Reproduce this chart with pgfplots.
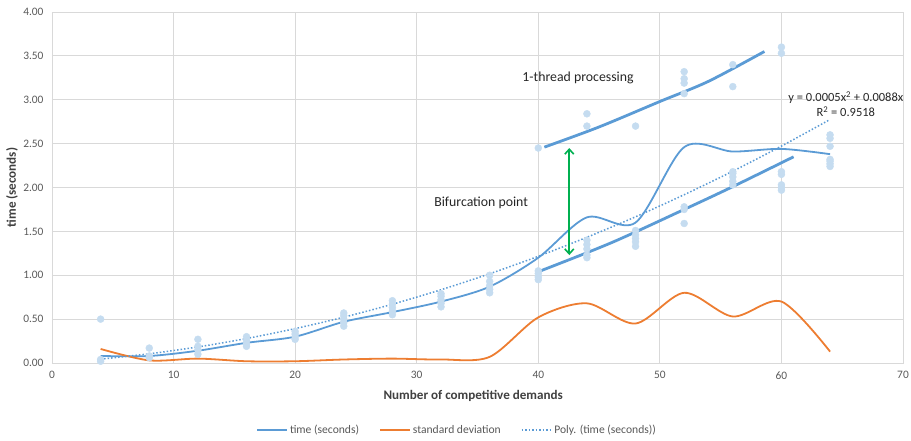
\documentclass[border=0pt]{standalone}
\usepackage{fontspec}
\setmainfont{Carlito}
\usepackage{pgfplots}
\pgfplotsset{compat=1.18}
\usetikzlibrary{arrows.meta}
\definecolor{tblue}{HTML}{5B9BD5}
\definecolor{torange}{HTML}{ED7D31}
\definecolor{tpt}{HTML}{C5DCF0}
\definecolor{tgreen}{HTML}{00B050}
\definecolor{tgrid}{HTML}{D9D9D9}
\definecolor{ttext}{HTML}{595959}
\definecolor{tlab}{HTML}{404040}
\newcommand{\tickfont}{\fontsize{11.4}{13}\selectfont}
\begin{document}
\begin{tikzpicture}
\path[use as bounding box] (-52pt,-77pt) rectangle (859pt,363pt);
\begin{axis}[
  scale only axis, width=851pt, height=351pt,
  xmin=0, xmax=70, ymin=0, ymax=4,
  xtick={0,10,...,70}, ytick={0,0.5,...,4},
  grid=major, grid style={tgrid, line width=0.8pt},
  axis line style={tgrid, line width=0.8pt},
  major tick length=0pt,
  /pgf/number format/assume math mode=true,
  ticklabel style={text=ttext},
  yticklabel={\tickfont\pgfmathprintnumber[fixed,fixed zerofill,precision=2,assume math mode=true]{\tick}},
  xticklabel={\tickfont\pgfmathprintnumber[assume math mode=true]{\tick}},
  y tick label style={xshift=-5pt},
  x tick label style={yshift=-5pt},
  xlabel={Number of competitive demands},
  ylabel={time (seconds)},
  label style={font=\bfseries\fontsize{13.1}{15}\selectfont, text=tlab},
  xlabel style={at={(axis description cs:0.495,-0.094)}, anchor=center},
  ylabel style={at={(axis description cs:-0.047,0.5)}, anchor=center},
  legend columns=3,
  legend style={draw=none, at={(0.476,-0.191)}, anchor=center,
    font=\fontsize{11.6}{14}\selectfont, text=ttext,
    /tikz/every even column/.append style={column sep=18pt}},
  legend image code/.code={\draw[#1] (0pt,0pt) -- (30pt,0pt);},
  clip=false,
]
% scatter of all runs
\addplot[only marks, color=tpt, mark=*, mark size=3.5pt, mark options={draw=tpt, fill=tpt}, forget plot] coordinates {
(4,0.02) (4,0.04) (4,0.50)
(8,0.06) (8,0.08) (8,0.17)
(12,0.10) (12,0.15) (12,0.19) (12,0.27)
(16,0.19) (16,0.22) (16,0.26) (16,0.30)
(20,0.27) (20,0.30) (20,0.33) (20,0.36)
(24,0.42) (24,0.46) (24,0.50) (24,0.54) (24,0.57)
(28,0.55) (28,0.59) (28,0.63) (28,0.67) (28,0.71)
(32,0.64) (32,0.68) (32,0.72) (32,0.76) (32,0.79)
(36,0.80) (36,0.84) (36,0.88) (36,0.93) (36,1.00)
(40,0.95) (40,0.98) (40,1.02) (40,1.05) (40,2.45)
(44,1.20) (44,1.23) (44,1.30) (44,1.35) (44,1.40) (44,2.70) (44,2.84)
(48,1.33) (48,1.38) (48,1.42) (48,1.46) (48,1.51) (48,2.70)
(52,1.59) (52,1.75) (52,1.78) (52,3.07) (52,3.19) (52,3.24) (52,3.32)
(56,2.03) (56,2.07) (56,2.12) (56,2.16) (56,2.18) (56,3.15) (56,3.40)
(60,1.97) (60,2.00) (60,2.03) (60,2.15) (60,2.18) (60,3.53) (60,3.60)
(64,2.24) (64,2.27) (64,2.30) (64,2.32) (64,2.47) (64,2.56) (64,2.60)
};
% thick branch lines
\addplot[tblue, line width=2.8pt, smooth, forget plot] coordinates {
(40.5,2.46) (45,2.69) (50,2.98) (54,3.21) (58.6,3.55)};
\addplot[tblue, line width=2.8pt, smooth, forget plot] coordinates {
(40,1.04) (46,1.37) (52,1.75) (56,2.01) (61,2.35)};
% mean time
\addplot[tblue, line width=1.8pt, smooth, tension=0.5] coordinates {
(4,0.08) (8,0.08) (12,0.14) (16,0.23) (20,0.30) (24,0.47) (28,0.58) (32,0.70)
(36,0.87) (40,1.20) (44,1.66) (48,1.60) (52,2.46) (56,2.41) (60,2.44) (64,2.38)};
\addlegendentry{time (seconds)}
% standard deviation
\addplot[torange, line width=1.8pt, smooth, tension=0.5] coordinates {
(4,0.16) (8,0.03) (12,0.05) (16,0.02) (20,0.02) (24,0.04) (28,0.05) (32,0.04)
(36,0.07) (40,0.52) (44,0.68) (48,0.45) (52,0.80) (56,0.53) (60,0.70) (64,0.13)};
\addlegendentry{standard deviation}
% polynomial trend
\addplot[tblue, line width=1.5pt, dotted, smooth] coordinates {
(4,0.044) (8,0.105) (12,0.183) (16,0.279) (20,0.392) (24,0.522) (28,0.670) (32,0.835)
(36,1.017) (40,1.216) (44,1.433) (48,1.666) (52,1.918) (56,2.186) (60,2.472) (64,2.775)};
\addlegendentry{Poly. (time (seconds))}
% annotations
\draw[tgreen, line width=1.6pt, <->, >={Straight Barb[length=5pt,width=9pt]}] (axis cs:42.55,2.45) -- (axis cs:42.55,1.23);
\node[font=\fontsize{13.8}{16}\selectfont, text=black!85] at (axis cs:43.27,3.25) {1-thread processing};
\node[font=\fontsize{13.8}{16}\selectfont, text=black!85] at (axis cs:35.3,1.82) {Bifurcation point};
\node[font=\fontsize{12.5}{15}\selectfont, text=black!85, align=center, inner sep=0pt] at (axis cs:65.3,2.95) {y = 0.0005x\textsuperscript{2} + 0.0088x\\R\textsuperscript{2} = 0.9518};
\end{axis}
\end{tikzpicture}
\end{document}
